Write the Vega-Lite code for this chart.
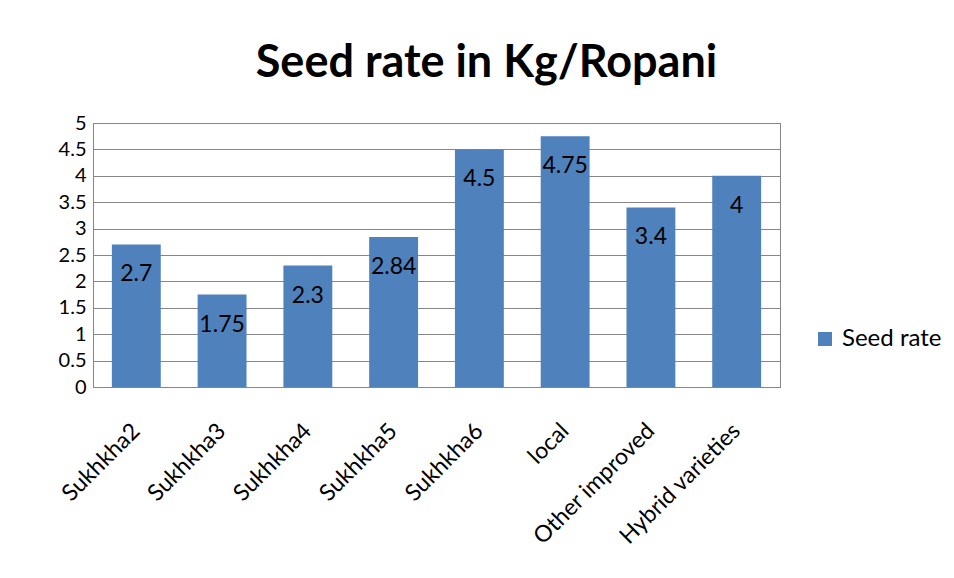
{
  "$schema": "https://vega.github.io/schema/vega-lite/v6.json",
  "width": 687,
  "height": 264,
  "autosize": "none",
  "padding": {"left": 93, "top": 123, "right": 174, "bottom": 191},
  "background": "white",
  "title": {
    "text": "Seed rate in Kg/Ropani",
    "font": "Lato",
    "fontSize": 45,
    "fontWeight": "bold",
    "color": "#000000",
    "anchor": "middle",
    "dx": 50,
    "offset": 27
  },
  "data": {
    "values": [
      {"variety": "Sukhkha2", "rate": 2.7, "series": "Seed rate"},
      {"variety": "Sukhkha3", "rate": 1.75, "series": "Seed rate"},
      {"variety": "Sukhkha4", "rate": 2.3, "series": "Seed rate"},
      {"variety": "Sukhkha5", "rate": 2.84, "series": "Seed rate"},
      {"variety": "Sukhkha6", "rate": 4.5, "series": "Seed rate"},
      {"variety": "local", "rate": 4.75, "series": "Seed rate"},
      {"variety": "Other improved", "rate": 3.4, "series": "Seed rate"},
      {"variety": "Hybrid varieties", "rate": 4, "series": "Seed rate"}
    ]
  },
  "encoding": {
    "x": {
      "field": "variety",
      "type": "nominal",
      "sort": null,
      "scale": {"paddingInner": 0.43, "paddingOuter": 0.22},
      "axis": {
        "title": null,
        "labelAngle": -45,
        "labelAlign": "right",
        "labelBaseline": "middle",
        "labelFont": "Lato",
        "labelFontSize": 23,
        "labelColor": "#000000",
        "labelPadding": 40,
        "labelOverlap": false,
        "ticks": false,
        "domainColor": "#868686",
        "grid": false
      }
    },
    "y": {
      "field": "rate",
      "type": "quantitative",
      "scale": {"domain": [0, 5], "nice": false},
      "axis": {
        "title": null,
        "values": [0, 0.5, 1, 1.5, 2, 2.5, 3, 3.5, 4, 4.5, 5],
        "format": "~g",
        "labelFont": "Lato",
        "labelFontSize": 20,
        "labelColor": "#000000",
        "labelPadding": 7,
        "labelOverlap": false,
        "tickSize": 0,
        "domainColor": "#868686",
        "gridColor": "#868686",
        "gridWidth": 1
      }
    }
  },
  "layer": [
    {
      "mark": {"type": "bar", "color": "#4F81BD"},
      "encoding": {
        "color": {
          "field": "series",
          "type": "nominal",
          "scale": {"range": ["#4F81BD"]},
          "legend": {
            "title": null,
            "orient": "none",
            "legendX": 720,
            "legendY": 204,
            "symbolType": "square",
            "symbolSize": 196,
            "symbolStrokeWidth": 0,
            "labelFont": "Lato",
            "labelFontSize": 24,
            "labelColor": "#000000",
            "labelOffset": 5
          }
        }
      }
    },
    {
      "mark": {"type": "text", "dy": 30, "baseline": "middle", "font": "Lato", "fontSize": 23, "color": "#000000"},
      "encoding": {
        "text": {"field": "rate", "type": "quantitative"}
      }
    }
  ],
  "config": {"view": {"stroke": "#868686"}}
}
